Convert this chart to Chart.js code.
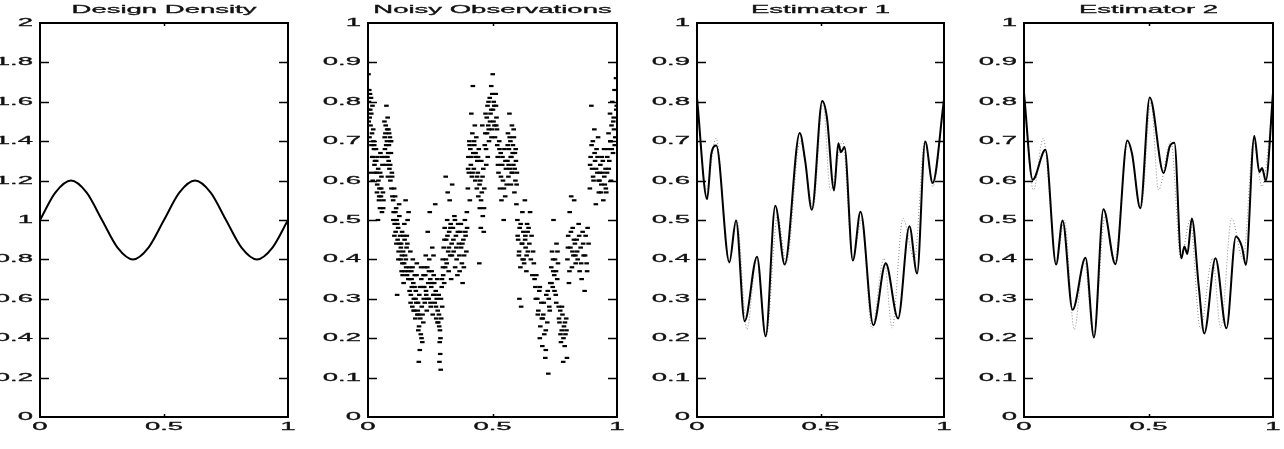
<!DOCTYPE html>
<html>
<head>
<meta charset="utf-8">
<title>Design density, noisy observations and two estimators</title>
<script src="https://cdn.jsdelivr.net/npm/chart.js@4.4.1/dist/chart.umd.min.js"></script>
<style>
  html, body { margin: 0; padding: 0; background: #fff; }
  #wrap { position: relative; width: 1284px; height: 449px; overflow: hidden; }
  #wrap canvas { position: absolute; left: 0; top: 0; }
</style>
</head>
<body>
<div id="wrap">
  <canvas id="design" width="1284" height="449"></canvas>
  <canvas id="noisy" width="1284" height="449"></canvas>
  <canvas id="est1" width="1284" height="449"></canvas>
  <canvas id="est2" width="1284" height="449"></canvas>
</div>
<script>
// tick labels
const xTicks = ["0", "0.5", "1"];
const densityTicks = ["0", "0.2", "0.4", "0.6", "0.8", "1", "1.2", "1.4", "1.6", "1.8", "2"];
const unitTicks = ["0", "0.1", "0.2", "0.3", "0.4", "0.5", "0.6", "0.7", "0.8", "0.9", "1"];

// design density
const densityX = [0, 0.0625, 0.125, 0.1875, 0.25, 0.3125, 0.375, 0.4375, 0.5, 0.5625, 0.625, 0.6875, 0.75, 0.8125, 0.875, 0.9375, 1];
const densityY = [1.0, 1.14, 1.2, 1.14, 1.0, 0.86, 0.8, 0.86, 1.0, 1.14, 1.2, 1.14, 1.0, 0.86, 0.8, 0.86, 1.0];

// noisy observations, grouped by x band
const obsX = [
  0.002,0.004,0.005,0.007,0.009,0.010,0.012,0.014,0.016,0.018,0.020,0.022,0.024,0.026,0.028,0.003,0.011,0.019,
  0.032,0.034,0.036,0.038,0.040,0.042,0.044,0.046,0.048,0.050,0.052,0.054,0.056,0.058,0.060,0.062,
  0.066,0.068,0.070,0.072,0.074,0.076,0.078,0.080,0.082,0.084,0.086,0.088,0.090,0.092,0.094,0.096,0.098,0.071,0.083,0.091,
  0.101,0.103,0.105,0.107,0.109,0.111,0.113,0.115,0.117,0.119,0.121,0.123,0.125,0.127,0.129,
  0.131,0.133,0.135,0.137,0.139,0.141,0.143,0.145,0.147,0.149,0.151,0.153,0.155,0.157,0.159,0.161,0.163,0.136,0.146,0.156,
  0.166,0.168,0.170,0.172,0.174,0.176,0.178,0.180,0.182,0.184,0.186,0.188,0.190,0.192,0.194,0.196,0.198,
  0.200,0.202,0.204,0.206,0.208,0.210,0.212,0.214,0.216,0.218,0.220,0.222,0.224,0.203,0.213,
  0.226,0.228,0.230,0.232,0.234,0.236,0.238,0.240,0.242,0.244,0.246,0.248,0.250,0.252,0.254,0.256,0.258,0.260,0.262,0.264,
  0.266,0.268,0.270,0.272,0.274,0.276,0.278,0.280,0.282,0.284,0.286,0.288,0.290,0.292,0.294,0.296,0.298,0.287,0.291,
  0.300,0.302,0.304,0.306,0.308,0.310,0.312,0.314,0.316,0.318,0.320,0.322,0.324,0.326,0.328,0.330,0.332,0.334,0.336,0.338,
  0.341,0.344,0.347,0.350,0.353,0.356,0.359,0.362,0.365,0.368,0.371,0.374,0.377,0.380,0.383,0.386,0.389,0.392,0.395,0.398,
  0.401,0.403,0.405,0.407,0.409,0.411,0.413,0.415,0.417,0.419,0.421,0.423,0.425,0.427,0.429,0.431,0.433,0.435,0.437,0.439,
  0.441,0.443,0.445,0.447,0.449,0.451,0.453,0.455,0.457,0.459,0.461,0.463,0.465,0.467,0.469,
  0.471,0.474,0.477,0.480,0.483,0.486,0.489,0.492,0.495,0.498,0.501,0.504,0.507,0.510,0.513,0.516,0.519,0.475,0.485,0.495,0.505,0.515,
  0.521,0.524,0.527,0.530,0.533,0.536,0.539,0.542,0.545,0.548,0.551,0.554,0.557,
  0.560,0.562,0.564,0.566,0.568,0.570,0.572,0.574,0.576,0.578,0.580,0.582,0.584,0.586,0.588,0.590,0.592,0.594,0.596,0.598,
  0.600,0.603,0.606,0.609,0.612,0.615,0.618,0.621,0.624,0.627,0.630,0.633,0.636,0.639,0.642,0.608,0.620,0.632,
  0.645,0.648,0.651,0.654,0.657,0.660,0.663,0.666,0.669,
  0.672,0.676,0.680,0.684,0.688,0.692,0.696,0.700,0.704,0.708,0.712,0.716,0.720,0.724,0.728,0.732,0.690,0.702,0.714,0.726,
  0.736,0.739,0.742,0.745,0.748,0.751,0.754,0.757,0.760,0.763,0.744,0.756,
  0.766,0.769,0.772,0.775,0.778,0.781,0.784,0.787,0.790,0.793,0.796,0.799,
  0.801,0.804,0.807,0.810,0.813,0.816,0.819,0.822,0.825,0.828,0.831,0.834,
  0.838,0.842,0.846,0.850,0.854,0.858,0.862,0.866,0.870,0.874,0.878,0.882,0.886,
  0.891,0.894,0.897,0.900,0.903,0.906,0.909,0.912,0.915,0.918,0.921,0.924,0.927,
  0.930,0.933,0.936,0.939,0.942,0.945,0.948,0.951,0.954,0.957,
  0.960,0.963,0.966,0.969,0.972,0.975,0.978,0.981,0.984,0.987,0.990,0.993,0.996,0.999,0.976,0.988,
  // second pass over the densest streaks
  0.001,0.006,0.013,0.017,0.021,0.025,0.029,0.008,
  0.033,0.037,0.041,0.045,0.049,0.053,0.057,0.061,
  0.067,0.069,0.073,0.077,0.081,0.085,0.089,0.093,0.097,0.079,
  0.102,0.106,0.110,0.114,0.118,0.122,0.126,
  0.132,0.138,0.142,0.148,0.152,0.158,0.162,
  0.167,0.171,0.175,0.179,0.183,0.187,0.191,0.195,
  0.201,0.205,0.209,0.215,0.219,0.223,
  0.227,0.233,0.239,0.245,0.251,0.257,0.263,
  0.267,0.273,0.279,0.285,0.289,0.293,0.297,
  0.301,0.307,0.313,0.319,0.325,0.331,0.337,
  0.343,0.349,0.355,0.361,0.367,0.373,0.379,0.385,0.391,0.397,
  0.402,0.408,0.414,0.420,0.426,0.432,0.438,
  0.442,0.448,0.454,0.460,0.466,
  0.472,0.478,0.484,0.490,0.496,0.502,0.508,0.514,0.518,0.481,0.499,
  0.522,0.528,0.534,0.540,0.546,0.552,
  0.561,0.565,0.569,0.573,0.577,0.581,0.585,0.589,0.593,0.597,
  0.601,0.607,0.613,0.619,0.625,0.631,0.637,0.641,
  0.674,0.682,0.690,0.698,0.706,0.714,0.722,0.730,
  0.737,0.743,0.749,0.755,0.761,
  0.767,0.773,0.779,0.785,0.791,0.797,
  0.803,0.809,0.815,0.821,0.827,0.833,
  0.840,0.848,0.856,0.864,0.872,0.880,
  0.892,0.898,0.904,0.910,0.916,0.922,0.926,
  0.931,0.937,0.943,0.949,0.955,
  0.961,0.967,0.973,0.979,0.985,0.991,0.997
];
const obsY = [
  0.87,0.80,0.83,0.76,0.78,0.74,0.81,0.69,0.72,0.79,0.66,0.70,0.68,0.64,0.65,0.75,0.62,0.60,
  0.68,0.62,0.57,0.66,0.50,0.60,0.55,0.58,0.53,0.67,0.56,0.61,0.52,0.64,0.57,0.55,
  0.75,0.68,0.72,0.64,0.79,0.70,0.66,0.61,0.73,0.69,0.63,0.71,0.60,0.67,0.58,0.62,0.56,0.74,0.65,0.70,
  0.55,0.52,0.58,0.49,0.56,0.47,0.53,0.50,0.31,0.45,0.48,0.42,0.54,0.44,0.46,
  0.40,0.44,0.37,0.47,0.36,0.42,0.34,0.39,0.45,0.41,0.55,0.38,0.43,0.36,0.50,0.37,0.52,0.41,0.49,0.46,
  0.38,0.35,0.42,0.31,0.37,0.33,0.28,0.40,0.34,0.30,0.27,0.36,0.25,0.32,0.29,0.39,0.26,
  0.27,0.22,0.14,0.31,0.17,0.25,0.21,0.35,0.28,0.19,0.33,0.24,0.30,0.26,0.38,
  0.33,0.29,0.36,0.41,0.31,0.27,0.38,0.47,0.34,0.30,0.40,0.52,0.35,0.28,0.33,0.37,0.43,0.26,0.31,0.36,
  0.34,0.29,0.54,0.32,0.25,0.30,0.35,0.27,0.24,0.31,0.23,0.19,0.16,0.12,0.25,0.33,0.28,0.14,0.20,
  0.40,0.36,0.43,0.34,0.48,0.38,0.61,0.45,0.39,0.50,0.57,0.42,0.37,0.47,0.55,0.41,0.49,0.35,0.44,0.59,
  0.48,0.42,0.51,0.38,0.46,0.40,0.36,0.49,0.44,0.37,0.47,0.43,0.39,0.34,0.45,0.41,0.50,0.46,0.42,0.48,
  0.58,0.66,0.62,0.70,0.55,0.68,0.64,0.77,0.61,0.72,0.84,0.67,0.63,0.69,0.74,0.60,0.66,0.71,0.58,0.65,
  0.62,0.56,0.68,0.39,0.53,0.60,0.48,0.65,0.57,0.74,0.51,0.63,0.47,0.58,0.69,
  0.72,0.68,0.76,0.79,0.74,0.70,0.81,0.77,0.84,0.73,0.87,0.75,0.79,0.71,0.82,0.76,0.69,0.64,0.73,0.78,0.80,0.74,
  0.66,0.62,0.70,0.58,0.67,0.55,0.64,0.60,0.50,0.68,0.56,0.63,0.59,
  0.65,0.72,0.61,0.68,0.77,0.63,0.70,0.59,0.66,0.74,0.62,0.69,0.64,0.71,0.57,0.67,0.60,0.65,0.54,0.62,
  0.50,0.45,0.41,0.48,0.38,0.28,0.44,0.40,0.47,0.39,0.55,0.43,0.37,0.49,0.42,0.30,0.52,0.46,
  0.48,0.44,0.52,0.40,0.46,0.36,0.42,0.39,0.35,
  0.33,0.36,0.30,0.27,0.32,0.23,0.29,0.18,0.26,0.21,0.15,0.31,0.24,0.11,0.28,0.34,0.20,0.25,0.17,0.30,
  0.38,0.42,0.33,0.50,0.36,0.40,0.31,0.44,0.35,0.39,0.37,0.29,
  0.28,0.24,0.27,0.19,0.22,0.26,0.14,0.23,0.18,0.21,0.25,0.15,
  0.40,0.46,0.34,0.52,0.43,0.56,0.38,0.48,0.41,0.55,0.44,0.39,
  0.45,0.40,0.49,0.37,0.43,0.35,0.47,0.41,0.32,0.46,0.39,0.48,0.44,
  0.58,0.66,0.79,0.63,0.70,0.60,0.73,0.65,0.54,0.68,0.62,0.71,0.57,
  0.60,0.64,0.57,0.66,0.62,0.55,0.68,0.59,0.63,0.57,
  0.62,0.68,0.72,0.65,0.77,0.70,0.74,0.80,0.67,0.76,0.83,0.71,0.86,0.79,0.60,0.73,
  // second pass over the densest streaks
  0.78,0.71,0.77,0.66,0.73,0.69,0.62,0.82,
  0.65,0.59,0.63,0.56,0.62,0.58,0.66,0.53,
  0.71,0.66,0.69,0.73,0.67,0.72,0.64,0.70,0.61,0.76,
  0.50,0.46,0.52,0.44,0.49,0.40,0.51,
  0.43,0.39,0.46,0.37,0.40,0.44,0.35,
  0.32,0.29,0.35,0.38,0.27,0.33,0.30,0.36,
  0.29,0.23,0.33,0.20,0.26,0.36,
  0.38,0.32,0.30,0.37,0.29,0.34,0.41,
  0.31,0.28,0.24,0.26,0.22,0.30,0.35,
  0.38,0.45,0.40,0.46,0.43,0.48,0.41,
  0.45,0.50,0.43,0.47,0.41,0.49,0.44,0.38,0.47,0.52,
  0.63,0.69,0.66,0.62,0.70,0.67,0.61,
  0.66,0.59,0.55,0.61,0.53,
  0.77,0.72,0.80,0.75,0.71,0.78,0.74,0.79,0.73,0.66,0.82,
  0.64,0.68,0.61,0.66,0.58,0.65,
  0.69,0.64,0.71,0.66,0.62,0.67,0.73,0.63,0.68,0.59,
  0.46,0.42,0.49,0.44,0.40,0.45,0.41,0.47,
  0.30,0.26,0.33,0.25,0.29,0.22,0.32,0.27,
  0.34,0.40,0.32,0.37,0.42,
  0.25,0.21,0.28,0.20,0.24,0.22,
  0.43,0.37,0.47,0.42,0.45,0.41,
  0.42,0.46,0.39,0.44,0.41,0.37,
  0.64,0.69,0.61,0.67,0.63,0.66,0.60,
  0.62,0.59,0.65,0.61,0.58,
  0.66,0.63,0.70,0.68,0.75,0.69,0.78
];

// true regression curve (dotted), shared by both estimator panels
const trueX = [0, 0.038, 0.077, 0.130, 0.162, 0.202, 0.241, 0.280, 0.326, 0.362, 0.418, 0.470, 0.510, 0.540, 0.590, 0.630, 0.667, 0.708, 0.757, 0.790, 0.834, 0.880, 0.922, 0.955, 1];
const trueY = [0.80, 0.576, 0.707, 0.39, 0.50, 0.222, 0.40, 0.205, 0.51, 0.39, 0.70, 0.53, 0.80, 0.576, 0.70, 0.40, 0.50, 0.225, 0.403, 0.226, 0.504, 0.40, 0.70, 0.585, 0.80];

// estimator 1
const est1X = [0, 0.041, 0.058, 0.078, 0.131, 0.158, 0.193, 0.243, 0.278, 0.317, 0.355, 0.416, 0.438, 0.465, 0.507, 0.526, 0.555, 0.572, 0.583, 0.597, 0.631, 0.662, 0.714, 0.764, 0.814, 0.860, 0.891, 0.924, 0.954, 1];
const est1Y = [0.81, 0.553, 0.668, 0.689, 0.393, 0.499, 0.243, 0.407, 0.205, 0.536, 0.387, 0.721, 0.65, 0.526, 0.802, 0.76, 0.575, 0.695, 0.672, 0.685, 0.397, 0.521, 0.233, 0.39, 0.25, 0.484, 0.364, 0.699, 0.594, 0.806];

// estimator 2
const est2X = [0, 0.035, 0.086, 0.129, 0.155, 0.195, 0.247, 0.281, 0.319, 0.367, 0.415, 0.434, 0.467, 0.505, 0.561, 0.585, 0.604, 0.632, 0.644, 0.656, 0.674, 0.702, 0.724, 0.769, 0.813, 0.851, 0.875, 0.891, 0.925, 0.945, 0.956, 0.971, 1];
const est2Y = [0.822, 0.602, 0.678, 0.387, 0.499, 0.272, 0.404, 0.202, 0.527, 0.388, 0.702, 0.668, 0.53, 0.811, 0.619, 0.686, 0.696, 0.403, 0.433, 0.414, 0.504, 0.33, 0.212, 0.403, 0.225, 0.458, 0.432, 0.386, 0.713, 0.622, 0.632, 0.60, 0.822];

const TEXT_FONT = '11px "Liberation Sans", Arial, Helvetica, sans-serif';
const STRETCH = 2.5; // the original figure's lettering is very wide

function toPoints(xs, ys) {
  const n = Math.min(xs.length, ys.length);
  const pts = [];
  for (let i = 0; i < n; i++) pts.push({ x: xs[i], y: ys[i] });
  return pts;
}

function wideText(ctx, text, x, y, align) {
  ctx.save();
  ctx.translate(x, y);
  ctx.scale(STRETCH, 1);
  ctx.textAlign = align;
  ctx.textBaseline = "middle";
  ctx.fillText(text, 0, 0);
  ctx.strokeText(text, 0, 0); // a touch heavier, like the scanned original
  ctx.restore();
}

// box, inward ticks, tick labels and title in the old matlab look
const framePlugin = {
  id: "frame",
  afterDatasetsDraw(chart, args, opts) {
    const { ctx, chartArea: a } = chart;
    const xs = chart.scales.x, ys = chart.scales.y;
    ctx.save();
    ctx.strokeStyle = "#000";
    ctx.lineWidth = 1.5;
    opts.yTicks.forEach(t => {
      const v = parseFloat(t);
      if (v <= ys.min || v >= ys.max) return;
      const py = Math.round(ys.getPixelForValue(v)) + 0.5;
      ctx.beginPath();
      ctx.moveTo(a.left, py); ctx.lineTo(a.left + 9, py);
      ctx.moveTo(a.right, py); ctx.lineTo(a.right - 9, py);
      ctx.stroke();
    });
    xTicks.forEach(t => {
      const v = parseFloat(t);
      if (v <= xs.min || v >= xs.max) return;
      const px = Math.round(xs.getPixelForValue(v)) + 0.5;
      ctx.beginPath();
      ctx.moveTo(px, a.top); ctx.lineTo(px, a.top + 3);
      ctx.moveTo(px, a.bottom); ctx.lineTo(px, a.bottom - 3);
      ctx.stroke();
    });
    ctx.lineWidth = 2;
    ctx.strokeRect(a.left, a.top, a.right - a.left, a.bottom - a.top);

    ctx.fillStyle = "#111";
    ctx.strokeStyle = "#111";
    ctx.lineWidth = 0.3;
    ctx.font = TEXT_FONT;
    opts.yTicks.forEach(t => {
      wideText(ctx, t, a.left - 7, ys.getPixelForValue(parseFloat(t)), "right");
    });
    xTicks.forEach(t => {
      wideText(ctx, t, xs.getPixelForValue(parseFloat(t)), a.bottom + 10, "center");
    });
    wideText(ctx, opts.title, (a.left + a.right) / 2, 10, "center");
    ctx.restore();
  }
};

function solidLine(xs, ys) {
  return {
    data: toPoints(xs, ys),
    borderColor: "#000",
    borderWidth: 2,
    pointRadius: 0,
    cubicInterpolationMode: "monotone"
  };
}

function dottedLine(xs, ys) {
  return {
    data: toPoints(xs, ys),
    borderColor: "#8a8a8a",
    borderWidth: 1,
    borderDash: [1, 2],
    pointRadius: 0,
    cubicInterpolationMode: "monotone"
  };
}

const panels = [
  { id: "design", title: "Design Density", left: 40, right: 288, yMax: 2, yTicks: densityTicks,
    datasets: [solidLine(densityX, densityY)] },
  { id: "noisy", title: "Noisy Observations", left: 368, right: 617, yMax: 1, yTicks: unitTicks,
    datasets: [{
      data: toPoints(obsX, obsY),
      showLine: false,
      pointStyle: "line",
      pointRadius: 2.3,
      pointBorderWidth: 2.2,
      pointBorderColor: "#000",
      pointBackgroundColor: "#000"
    }] },
  { id: "est1", title: "Estimator 1", left: 697, right: 944, yMax: 1, yTicks: unitTicks,
    datasets: [solidLine(est1X, est1Y), dottedLine(trueX, trueY)] },
  { id: "est2", title: "Estimator 2", left: 1024, right: 1273, yMax: 1, yTicks: unitTicks,
    datasets: [solidLine(est2X, est2Y), dottedLine(trueX, trueY)] }
];

panels.forEach(p => {
  new Chart(document.getElementById(p.id), {
    type: "line",
    data: { datasets: p.datasets },
    options: {
      responsive: false,
      animation: false,
      events: [],
      layout: { padding: { left: p.left, right: 1284 - p.right, top: 23, bottom: 32 } },
      scales: {
        x: { type: "linear", min: 0, max: 1, display: false },
        y: { type: "linear", min: 0, max: p.yMax, display: false }
      },
      plugins: {
        legend: { display: false },
        tooltip: { enabled: false },
        frame: { title: p.title, yTicks: p.yTicks }
      }
    },
    plugins: [framePlugin]
  });
});
</script>
</body>
</html>
